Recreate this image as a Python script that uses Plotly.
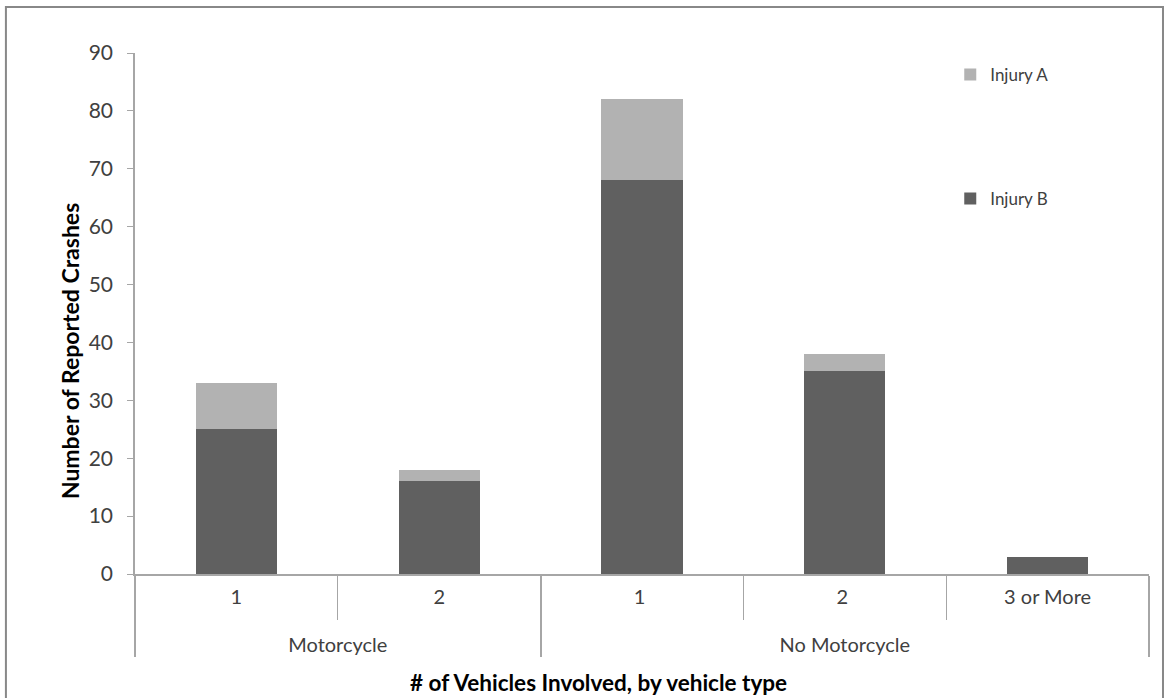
import plotly.graph_objects as go

groups = ["Motorcycle", "Motorcycle", "No Motorcycle", "No Motorcycle", "No Motorcycle"]
vehicles = ["1", "2", "1 ", "2 ", "3 or More"]
injury_b = [25, 16, 68, 35, 3]
injury_a = [8, 2, 14, 3, 0]

FONT = "Lato"
GRAY = "#a6a6a6"
TXT = "#404040"

# group labels pushed down one line to mimic the spreadsheet-style table axis
group_labels = ["<br>" + g for g in groups]

fig = go.Figure()
fig.add_trace(go.Bar(x=[group_labels, vehicles], y=injury_b, name="Injury B",
                     marker=dict(color="#606060", line=dict(width=0)), legend="legend2"))
fig.add_trace(go.Bar(x=[group_labels, vehicles], y=injury_a, name="Injury A",
                     marker=dict(color="#b2b2b2", line=dict(width=0)), legend="legend"))

fig.update_layout(
    width=1167, height=698,
    margin=dict(l=135, r=18, t=53, b=124, autoexpand=False),
    barmode="stack", bargap=0.6,
    plot_bgcolor="white", paper_bgcolor="white",
    font=dict(family=FONT, size=20, color=TXT),
    legend=dict(x=0.804, y=0.958, xanchor="left", yanchor="middle",
                font=dict(size=17, color=TXT), bgcolor="rgba(0,0,0,0)"),
    legend2=dict(x=0.804, y=0.72, xanchor="left", yanchor="middle",
                 font=dict(size=17, color=TXT), bgcolor="rgba(0,0,0,0)"),
    showlegend=True,
)
fig.update_yaxes(range=[0, 90], dtick=10, showgrid=False, zeroline=False,
                 showline=True, linecolor=GRAY, linewidth=1.5,
                 ticks="outside", ticklen=6, tickcolor=GRAY, ticklabelstandoff=10,
                 tickfont=dict(size=21, color=TXT), automargin=False)
fig.update_xaxes(type="multicategory", showgrid=False, showline=True,
                 linecolor=GRAY, linewidth=1.5,
                 ticks="outside", tickson="boundaries", ticklen=44, tickcolor=GRAY,
                 showdividers=True, dividercolor=GRAY, dividerwidth=1.5,
                 ticklabelstandoff=4,
                 tickfont=dict(size=20, color=TXT), automargin=False)

# axis titles
fig.add_annotation(text="<b>Number of Reported Crashes</b>", xref="paper", yref="paper",
                   x=-0.064, y=0.428, xanchor="center", yanchor="middle",
                   textangle=-90, showarrow=False,
                   font=dict(size=23, color="black", family=FONT))
fig.add_annotation(text="<b># of Vehicles Involved, by vehicle type</b>", xref="paper", yref="paper",
                   x=0.457, y=-0.209, xanchor="center", yanchor="middle", showarrow=False,
                   font=dict(size=22.5, color="black", family=FONT))

# outer chart border
fig.add_shape(type="rect", xref="paper", yref="paper",
              x0=-0.1273, x1=1.0138, y0=-0.26, y1=1.0883,
              line=dict(color="#888888", width=2), fillcolor="rgba(0,0,0,0)", layer="below")

fig.write_html("out.html", config={"displayModeBar": False},
               post_script="document.body.style.margin='0';")
